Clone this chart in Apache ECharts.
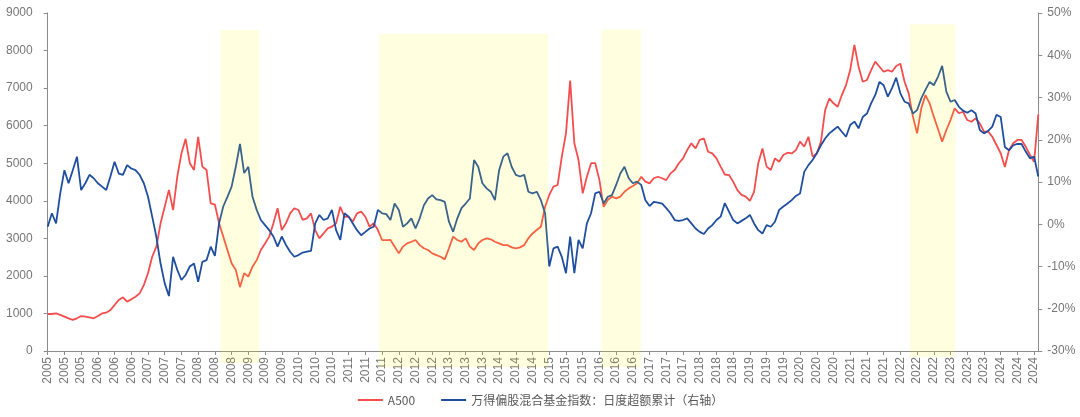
<!DOCTYPE html>
<html>
<head>
<meta charset="utf-8">
<script src="https://cdn.jsdelivr.net/npm/echarts@6/dist/echarts.min.js"></script>
<style>
html,body{margin:0;padding:0;background:#fff;}
#chart{width:1080px;height:417px;}
</style>
</head>
<body>
<div id="chart"></div>
<script>
// ---- Data ----
var START_YEAR = 2005;
var MONTH_COUNT = 238; // monthly points, 2005-01 ... 2024-10
var months = [];
for (var i = 0; i < MONTH_COUNT; i++) {
  var y = START_YEAR + Math.floor(i / 12);
  var mo = (i % 12) + 1;
  months.push(y + '-' + (mo < 10 ? '0' + mo : mo));
}

var seriesNames = ['A500', '万得偏股混合基金指数：日度超额累计（右轴）'];

// A500 index level (left axis)
var a500 = [
  985, 985, 1000, 960, 915, 870, 830, 870, 930, 915,
  895, 870, 930, 1000, 1020, 1090, 1225, 1360, 1430, 1315,
  1375, 1445, 1535, 1755, 2070, 2510, 2780, 3400, 3840, 4290,
  3750, 4640, 5260, 5650, 5000, 4820, 5700, 4910, 4820, 3930,
  3900, 3400, 3045, 2690, 2335, 2155, 1700, 2070, 1980, 2245,
  2420, 2690, 2865, 3045, 3400, 3800, 3220, 3400, 3665, 3800,
  3755, 3490, 3530, 3665, 3220, 3000, 3130, 3265, 3310, 3400,
  3840, 3575, 3575, 3445, 3665, 3710, 3575, 3310, 3400, 3220,
  2955, 2950, 2955, 2780, 2600, 2780, 2865, 2910, 2955, 2820,
  2735, 2690, 2600, 2555, 2510, 2440, 2735, 3045, 2955, 2910,
  3000, 2780, 2690, 2865, 2955, 3000, 2975, 2910, 2865, 2820,
  2820, 2760, 2735, 2760, 2820, 3000, 3130, 3220, 3310, 3840,
  4155, 4375, 4420, 5175, 5795, 7200, 5530, 5085, 4200, 4640,
  5000, 5000, 4550, 3840, 4020, 4110, 4065, 4110, 4240, 4330,
  4395, 4465, 4640, 4510, 4465, 4600, 4640, 4600, 4550, 4730,
  4820, 5000, 5130, 5350, 5530, 5395, 5620, 5660, 5305, 5260,
  5130, 4910, 4700, 4685, 4510, 4285, 4155, 4110, 4000, 4240,
  5000, 5395, 4910, 4820, 5130, 5040, 5220, 5280, 5260, 5350,
  5575, 5440, 5705, 5175, 5260, 5575, 6415, 6725, 6595, 6505,
  6815, 7080, 7480, 8150, 7570, 7170, 7215, 7480, 7705, 7570,
  7435, 7480, 7435, 7590, 7650, 7170, 6860, 6240, 5795, 6460,
  6815, 6595, 6240, 5910, 5575, 5885, 6150, 6460, 6330, 6370,
  6150, 6105, 6195, 6060, 5840, 5840, 5705, 5485, 5265, 4900,
  5350, 5530, 5620, 5620, 5440, 5220, 5040, 6300
];

// Fund index cumulative excess return, % (right axis)
var excess = [
  -0.6, 2.6, 0.2, 7.3, 12.8, 9.7, 12.8, 16.0, 8.1, 9.7,
  11.7, 10.9, 9.7, 8.9, 8.1, 11.3, 14.8, 12.0, 11.7, 14.0,
  13.2, 12.8, 11.7, 9.7, 6.5, 1.8, -3.0, -9.3, -14.0, -17.0,
  -7.7, -10.8, -13.2, -12.0, -10.0, -9.3, -13.6, -8.9, -8.5, -5.3,
  -7.5, 0.2, 4.2, 6.5, 8.9, 13.6, 19.0, 12.1, 13.6, 6.5,
  3.4, 1.0, -0.2, -1.4, -2.9, -5.3, -2.9, -4.9, -6.5, -7.7,
  -7.3, -6.7, -6.5, -6.3, 0.2, 2.2, 1.0, 1.4, 3.4, -1.4,
  -3.7, 2.6, 1.8, 0.2, -1.4, -2.6, -1.8, -1.0, -0.6, 3.4,
  2.6, 2.4, 1.0, 4.9, 3.4, -0.6, 0.2, 1.4, -1.0, 1.4,
  4.5, 6.1, 6.9, 5.9, 5.7, 5.3, 0.6, -1.8, 1.4, 3.8,
  4.9, 6.1, 15.2, 13.6, 9.7, 8.5, 7.7, 5.7, 12.8, 16.0,
  16.8, 13.6, 11.7, 11.3, 11.7, 7.7, 7.3, 7.7, 5.7, 2.6,
  -10.0, -5.7, -5.3, -7.7, -11.6, -2.9, -11.6, -3.7, -5.7, 0.2,
  2.6, 7.3, 7.7, 4.9, 6.5, 6.9, 9.3, 12.0, 13.6, 10.9,
  9.7, 10.1, 9.3, 5.7, 4.3, 5.3, 5.1, 4.9, 3.8, 2.6,
  1.0, 0.8, 1.0, 1.4, 0.2, -1.0, -1.8, -2.3, -1.0, -0.2,
  1.0, 1.8, 5.0, 3.0, 1.0, 0.2, 0.8, 1.4, 2.2, 0.2,
  -1.4, -2.2, -0.2, -0.6, 0.6, 3.4, 4.2, 4.9, 5.7, 6.7,
  7.3, 12.4, 14.0, 15.2, 16.8, 18.7, 20.3, 21.5, 22.3, 23.1,
  21.9, 20.7, 23.5, 24.3, 22.7, 25.4, 26.2, 28.6, 30.6, 33.7,
  32.9, 30.2, 32.2, 34.7, 31.0, 29.0, 28.6, 26.2, 27.0, 29.8,
  31.8, 33.7, 32.9, 34.9, 37.5, 31.4, 29.0, 29.4, 27.8, 26.9,
  26.4, 27.0, 26.2, 22.3, 21.5, 22.1, 23.1, 25.9, 25.4, 18.3,
  17.5, 18.7, 19.0, 19.0, 17.2, 15.6, 16.0, 11.3
];

// Highlighted periods: start / end (month index), top / bottom (left-axis units)
var shadeStart  = [41.3, 79.3, 132.5, 206.3];
var shadeEnd    = [50.6, 119.7, 141.9, 217.1];
var shadeTop    = [8550, 8450, 8560, 8700];
var shadeBottom = [-320, -430, -430, -160];

var leftTicks = {min: 0, max: 9000, interval: 1000};
var rightTicks = {min: -30, max: 50, interval: 10};

// ---- Chart ----
var shadeData = shadeStart.map(function (s, i) {
  return [s, shadeEnd[i], shadeTop[i], shadeBottom[i]];
});

var axisGrey = '#8c8c8c';
var labelGrey = '#767676';
var fontFam = "'Liberation Sans', Arial, sans-serif";

var chart = echarts.init(document.getElementById('chart'), null, {renderer: 'canvas'});
chart.setOption({
  animation: false,
  backgroundColor: '#ffffff',
  grid: {left: 47.7, right: 41.7, top: 13, bottom: 66, containLabel: false},
  legend: {
    bottom: 6,
    left: 'center',
    itemWidth: 25,
    itemHeight: 2,
    itemGap: 25,
    textStyle: {color: '#595959', fontSize: 12, fontFamily: "'Noto Sans CJK SC', sans-serif"},
    data: seriesNames
  },
  xAxis: [{
    type: 'category',
    data: months,
    boundaryGap: false,
    axisLine: {lineStyle: {color: axisGrey, width: 1}},
    axisTick: {interval: 3, length: 4, lineStyle: {color: axisGrey}},
    axisLabel: {
      interval: 3, rotate: 90, margin: 6,
      color: labelGrey, fontSize: 12, fontFamily: fontFam,
      formatter: function (v) { return v.substring(0, 4); }
    },
    splitLine: {show: false}
  }, {
    type: 'value',
    show: false,
    min: 0,
    max: MONTH_COUNT - 1
  }],
  yAxis: [{
    type: 'value',
    min: leftTicks.min, max: leftTicks.max, interval: leftTicks.interval,
    axisLine: {show: true, lineStyle: {color: axisGrey}},
    axisTick: {show: true, length: 4, lineStyle: {color: axisGrey}},
    axisLabel: {color: labelGrey, fontSize: 12, margin: 15, fontFamily: fontFam,
      formatter: function (v) { return String(v); }},
    splitLine: {show: false}
  }, {
    type: 'value',
    position: 'right',
    min: rightTicks.min, max: rightTicks.max, interval: rightTicks.interval,
    axisLine: {show: true, lineStyle: {color: axisGrey}},
    axisTick: {show: true, length: 4, lineStyle: {color: axisGrey}},
    axisLabel: {color: labelGrey, fontSize: 12, margin: 9, fontFamily: fontFam,
      formatter: function (v) { return v + '%'; }},
    splitLine: {show: false}
  }],
  series: [{
    name: seriesNames[0],
    type: 'line',
    data: a500,
    xAxisIndex: 0,
    yAxisIndex: 0,
    symbol: 'none',
    lineStyle: {color: '#f54d4d', width: 1.8},
    itemStyle: {color: '#f54d4d'},
    z: 2
  }, {
    name: seriesNames[1],
    type: 'line',
    data: excess,
    xAxisIndex: 0,
    yAxisIndex: 1,
    symbol: 'none',
    lineStyle: {color: '#1f4e9e', width: 1.8},
    itemStyle: {color: '#1f4e9e'},
    z: 3
  }, {
    type: 'custom',
    name: 'shade',
    xAxisIndex: 1,
    yAxisIndex: 0,
    silent: true,
    clip: false,
    z: 10,
    data: shadeData,
    renderItem: function (params, api) {
      var p0 = api.coord([api.value(0), api.value(2)]);
      var p1 = api.coord([api.value(1), api.value(3)]);
      return {
        type: 'rect',
        shape: {x: p0[0], y: p0[1], width: p1[0] - p0[0], height: p1[1] - p0[1]},
        style: {fill: 'rgba(255,255,0,0.12)'}
      };
    }
  }]
});
</script>
</body>
</html>
